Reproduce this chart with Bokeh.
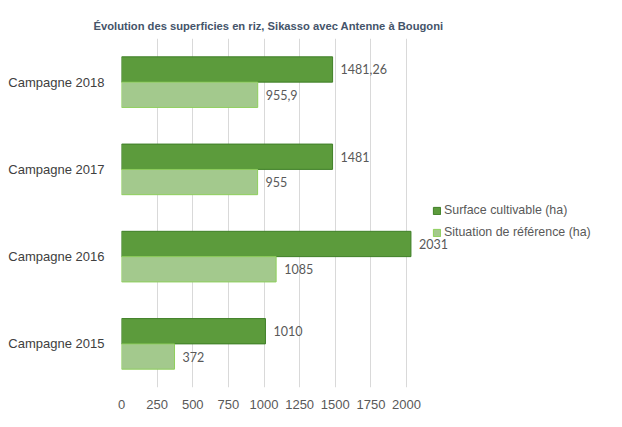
from bokeh.plotting import figure
from bokeh.models import ColumnDataSource, FixedTicker, Range1d, FactorRange, Legend, LegendItem
from bokeh.transform import dodge
from bokeh.core.properties import value
from bokeh.embed import file_html
from bokeh.resources import INLINE

categories = ["Campagne 2015", "Campagne 2016", "Campagne 2017", "Campagne 2018"]
surface = [1010, 2031, 1481, 1481.26]
reference = [372, 1085, 955, 955.9]
x_ticks = [0, 250, 500, 750, 1000, 1250, 1500, 1750, 2000]
series_names = ["Surface cultivable (ha)", "Situation de référence (ha)"]
title_text = "Évolution des superficies en riz, Sikasso avec Antenne à Bougoni"


def fmt(v):
    if float(v).is_integer():
        return str(int(v))
    return str(v).replace(".", ",")


src = ColumnDataSource(dict(
    cat=categories,
    surface=surface,
    reference=reference,
    surface_lbl=[fmt(v) for v in surface],
    reference_lbl=[fmt(v) for v in reference],
))

p = figure(
    width=606, height=411,
    y_range=FactorRange(factors=categories, range_padding=0),
    x_range=Range1d(0, 3361),
    output_backend="svg", toolbar_location=None,
    min_border_left=121, min_border_right=6, min_border_top=38, min_border_bottom=21,
)
p.outline_line_color = None
p.background_fill_color = "white"
p.border_fill_color = "white"

p.title.text = title_text
p.title.align = "left"
p.title.offset = -28
p.title.text_font = "Liberation Sans"
p.title.text_font_size = "11.2px"
p.title.text_font_style = "bold"
p.title.text_color = "#44546a"
p.title.standoff = 14

bh = 0.29
r1 = p.hbar(y=dodge("cat", 0.145, range=p.y_range), right="surface", left=0, height=bh,
            source=src, fill_color="#5c9b3c", line_color="#3f7f27", line_width=1)
r2 = p.hbar(y=dodge("cat", -0.145, range=p.y_range), right="reference", left=0, height=bh,
            source=src, fill_color="#a3c98d", line_color="#8fcf5c", line_width=1)

p.text(x="surface", y=dodge("cat", 0.145, range=p.y_range), text="surface_lbl", source=src,
       x_offset=8, text_baseline="middle", text_align="left",
       text_font=value("Lato"), text_font_size="12.5px", text_color="#595959")
p.text(x="reference", y=dodge("cat", -0.145, range=p.y_range), text="reference_lbl", source=src,
       x_offset=8, text_baseline="middle", text_align="left",
       text_font=value("Lato"), text_font_size="12.5px", text_color="#595959")

p.xaxis.ticker = FixedTicker(ticks=x_ticks)
p.xaxis.axis_line_color = None
p.xaxis.major_tick_line_color = None
p.xaxis.minor_tick_line_color = None
p.xaxis.major_label_text_font = "Liberation Sans"
p.xaxis.major_label_text_font_size = "13px"
p.xaxis.major_label_text_color = "#595959"
p.xaxis.major_label_standoff = 6

p.yaxis.axis_line_color = None
p.yaxis.major_tick_line_color = None
p.yaxis.minor_tick_line_color = None
p.yaxis.major_label_text_font = "Liberation Sans"
p.yaxis.major_label_text_font_size = "13px"
p.yaxis.major_label_text_color = "#404040"
p.yaxis.major_label_standoff = 11

p.ygrid.grid_line_color = None
p.xgrid.grid_line_color = "#d9d9d9"
p.xgrid.grid_line_width = 1

legend = Legend(items=[LegendItem(label=series_names[0], renderers=[r1]),
                       LegendItem(label=series_names[1], renderers=[r2])],
                location=(311, 148))
legend.glyph_width = 9
legend.glyph_height = 9
legend.label_standoff = 3
legend.spacing = 8
legend.padding = 0
legend.margin = 0
legend.border_line_color = None
legend.background_fill_alpha = 0
legend.label_text_font = "Liberation Sans"
legend.label_text_font_size = "12.4px"
legend.label_text_color = "#595959"
legend.label_height = 13
p.add_layout(legend, "center")

open("out.html", "w").write(file_html(p, INLINE))
